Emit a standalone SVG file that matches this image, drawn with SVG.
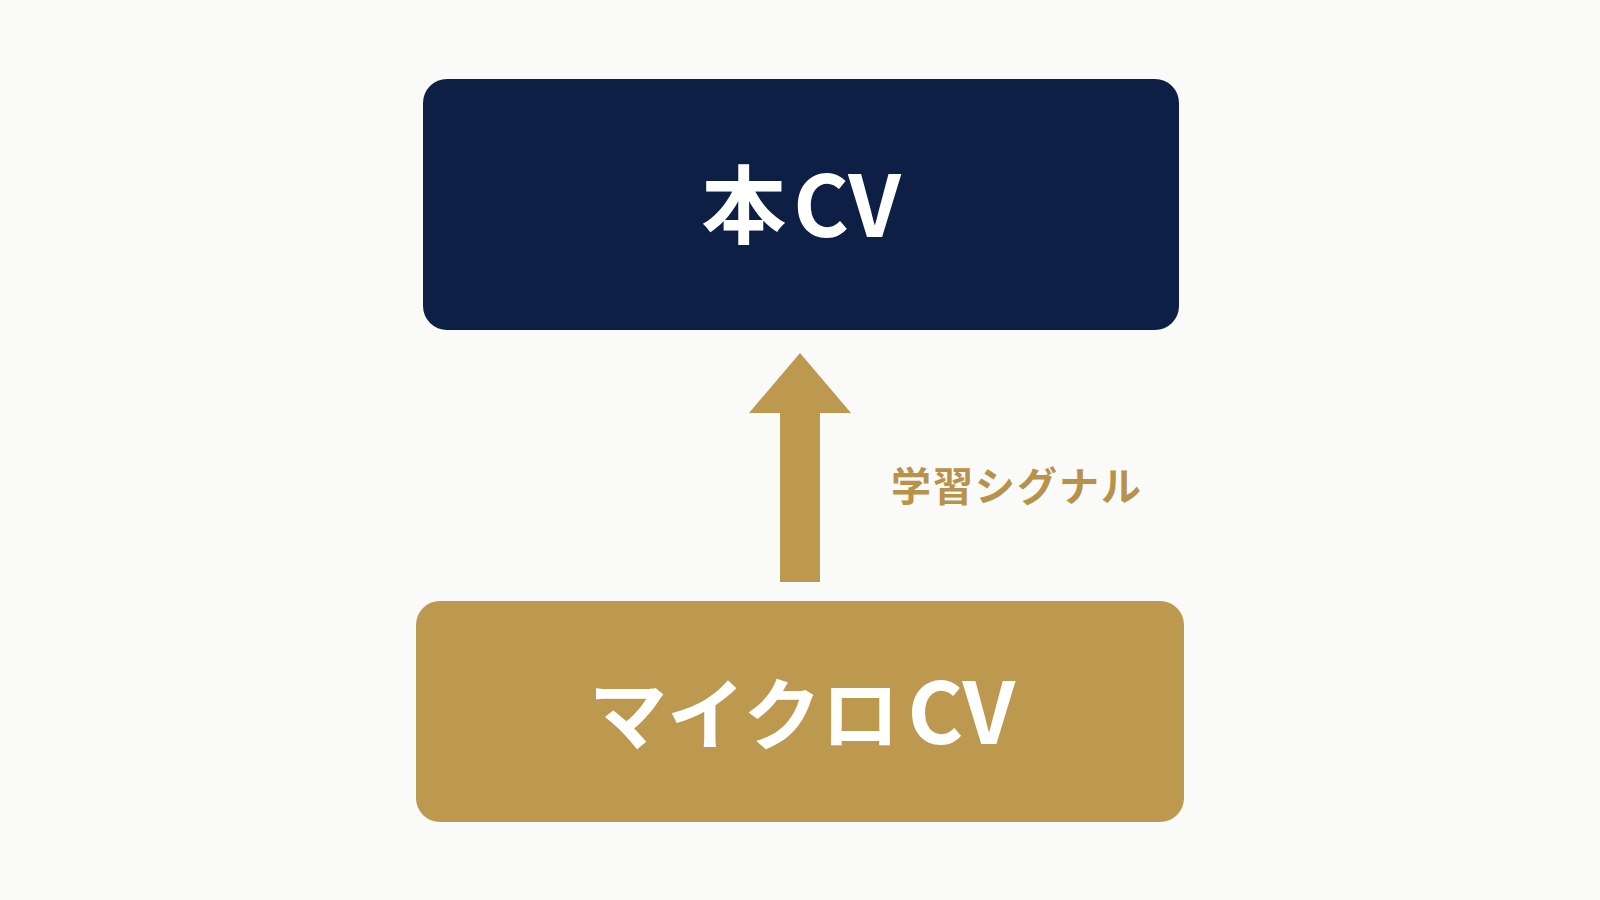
<svg xmlns="http://www.w3.org/2000/svg" width="1600" height="900" viewBox="0 0 1600 900">
<style>
.t{font-family:"Noto Sans CJK JP","Noto Sans",sans-serif;font-weight:700}
.node-text{fill:#FFFFFF;font-size:85px;text-anchor:middle}
.kana{font-size:78px}
.label{fill:#B8924A;font-size:40px;letter-spacing:2px}
</style>
<rect width="1600" height="900" fill="#FAFAF9"/>
<g id="node-main-cv">
<rect x="423" y="79" width="756" height="251" rx="24" fill="#0D1F45"/>
<text class="t node-text" x="801" y="237">本<tspan dx="7">CV</tspan></text>
</g>
<g id="node-micro-cv">
<rect x="416" y="601" width="768" height="221" rx="24" fill="#BD984F"/>
<text class="t node-text" x="802" y="744"><tspan class="kana">マイクロ</tspan><tspan dx="8">CV</tspan></text>
</g>
<g id="connectors">
<polygon points="800,353 851,413 820,413 820,582 780,582 780,413 749,413" fill="#BD984F"/>
<text class="t label" x="891" y="501">学習シグナル</text>
</g>
</svg>
